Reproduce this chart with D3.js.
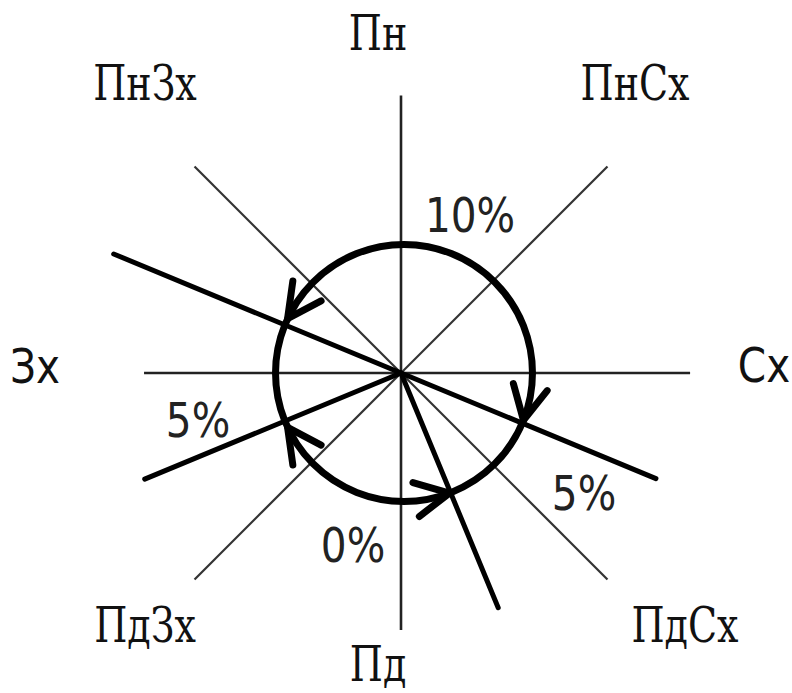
<!DOCTYPE html>
<html>
<head>
<meta charset="utf-8">
<script src="https://cdn.jsdelivr.net/npm/d3@7"></script>
<style>
  html, body { margin: 0; padding: 0; background: #fff; }
  svg { display: block; }
</style>
</head>
<body>
<svg id="chart" width="792" height="693"></svg>
<script>
// compass directions (clockwise from north) and axis lengths, in scale units
const dirLabels = ['Пн', 'ПнСх', 'Сх', 'ПдСх', 'Пд', 'ПдЗх', 'Зх', 'ПнЗх'];
const dirAngles = [0, 45, 90, 135, 180, 225, 270, 315];
const axisLengths = [95, 100, 99, 100, 88, 100, 88, 100];

// thick rays
const rayAngles = [292.5, 112.5, 247.5, 157.5];
const rayLengths = [106.5, 94.5, 95, 87];

// circulation circle and its arrowheads (1 = clockwise, -1 = counter-clockwise)
const circleValue = 44;
const arrowAngles = [295, 111.6, 159.3, 245];
const arrowSense = [-1, 1, -1, 1];

// percentage notes
const pctLabels = ['10%', '5%', '5%', '0%'];

// ---- layout ----
const svg = d3.select('#chart');
const cx = 401, cy = 373;
const r = d3.scaleLinear().domain([0, 100]).range([0, 292]);

const polar = (deg, len) => {
  const a = deg * Math.PI / 180;
  return [cx + r(len) * Math.sin(a), cy - r(len) * Math.cos(a)];
};

// label placement (hand tuned)
const dirLabelPos = [[378, 50], [635, 100], [764, 382], [685, 642], [378, 681], [145, 642], [35, 383], [145, 100]];
const sansDirs = ['Сх', 'Зх'];
const pctPos = [[470, 232], [198, 437], [584, 510], [353, 562]];

// axes
svg.append('g')
  .selectAll('line')
  .data(dirAngles)
  .join('line')
  .attr('x1', cx).attr('y1', cy)
  .attr('x2', (d, i) => polar(d, axisLengths[i])[0])
  .attr('y2', (d, i) => polar(d, axisLengths[i])[1])
  .attr('stroke', (d, i) => i % 2 ? '#333' : '#222')
  .attr('stroke-width', (d, i) => i % 2 ? 2.2 : 2.6);

// thick rays
svg.append('g')
  .selectAll('line')
  .data(rayAngles)
  .join('line')
  .attr('x1', cx).attr('y1', cy)
  .attr('x2', (d, i) => polar(d, rayLengths[i])[0])
  .attr('y2', (d, i) => polar(d, rayLengths[i])[1])
  .attr('stroke', '#000')
  .attr('stroke-width', 5)
  .attr('stroke-linecap', 'round');

// circle
const ccx = cx + 3;
svg.append('circle')
  .attr('cx', ccx).attr('cy', cy)
  .attr('r', r(circleValue))
  .attr('fill', 'none')
  .attr('stroke', '#000')
  .attr('stroke-width', 7);

// arrowheads
const arrowLen = 38, half = 27 * Math.PI / 180;
const arrowPath = (deg, sense) => {
  const a = deg * Math.PI / 180;
  const tip = [ccx + r(circleValue) * Math.sin(a), cy - r(circleValue) * Math.cos(a)];
  const t = (deg - sense * 10) * Math.PI / 180;
  // direction pointing backwards along the motion
  const back = Math.atan2(-sense * Math.sin(t), -sense * Math.cos(t));
  const p1 = [tip[0] + arrowLen * Math.cos(back - half), tip[1] + arrowLen * Math.sin(back - half)];
  const p2 = [tip[0] + arrowLen * Math.cos(back + half), tip[1] + arrowLen * Math.sin(back + half)];
  return d3.line()([p1, tip, p2]);
};
svg.append('g')
  .selectAll('path')
  .data(arrowAngles)
  .join('path')
  .attr('d', (d, i) => arrowPath(d, arrowSense[i]))
  .attr('fill', 'none')
  .attr('stroke', '#000')
  .attr('stroke-width', 7)
  .attr('stroke-linecap', 'round')
  .attr('stroke-linejoin', 'round');

// direction labels
svg.append('g')
  .selectAll('text')
  .data(dirLabels)
  .join('text')
  .attr('transform', (d, i) => {
    const sans = sansDirs.includes(d);
    return `translate(${dirLabelPos[i][0]},${dirLabelPos[i][1]}) scale(${sans ? 0.94 : 0.88},1)`;
  })
  .attr('text-anchor', 'middle')
  .attr('font-family', d => sansDirs.includes(d) ? '"DejaVu Sans Condensed", "DejaVu Sans", sans-serif' : '"DejaVu Serif Condensed", "DejaVu Serif", serif')
  .attr('font-size', 48)
  .attr('fill', '#111')
  .text(d => d);

// percentage labels
svg.append('g')
  .selectAll('text')
  .data(pctLabels)
  .join('text')
  .attr('transform', (d, i) => `translate(${pctPos[i][0]},${pctPos[i][1]}) scale(0.94,1)`)
  .attr('text-anchor', 'middle')
  .attr('font-family', '"DejaVu Sans Condensed", "DejaVu Sans", sans-serif')
  .attr('font-size', 48)
  .attr('fill', '#222')
  .text(d => d);
</script>
</body>
</html>
